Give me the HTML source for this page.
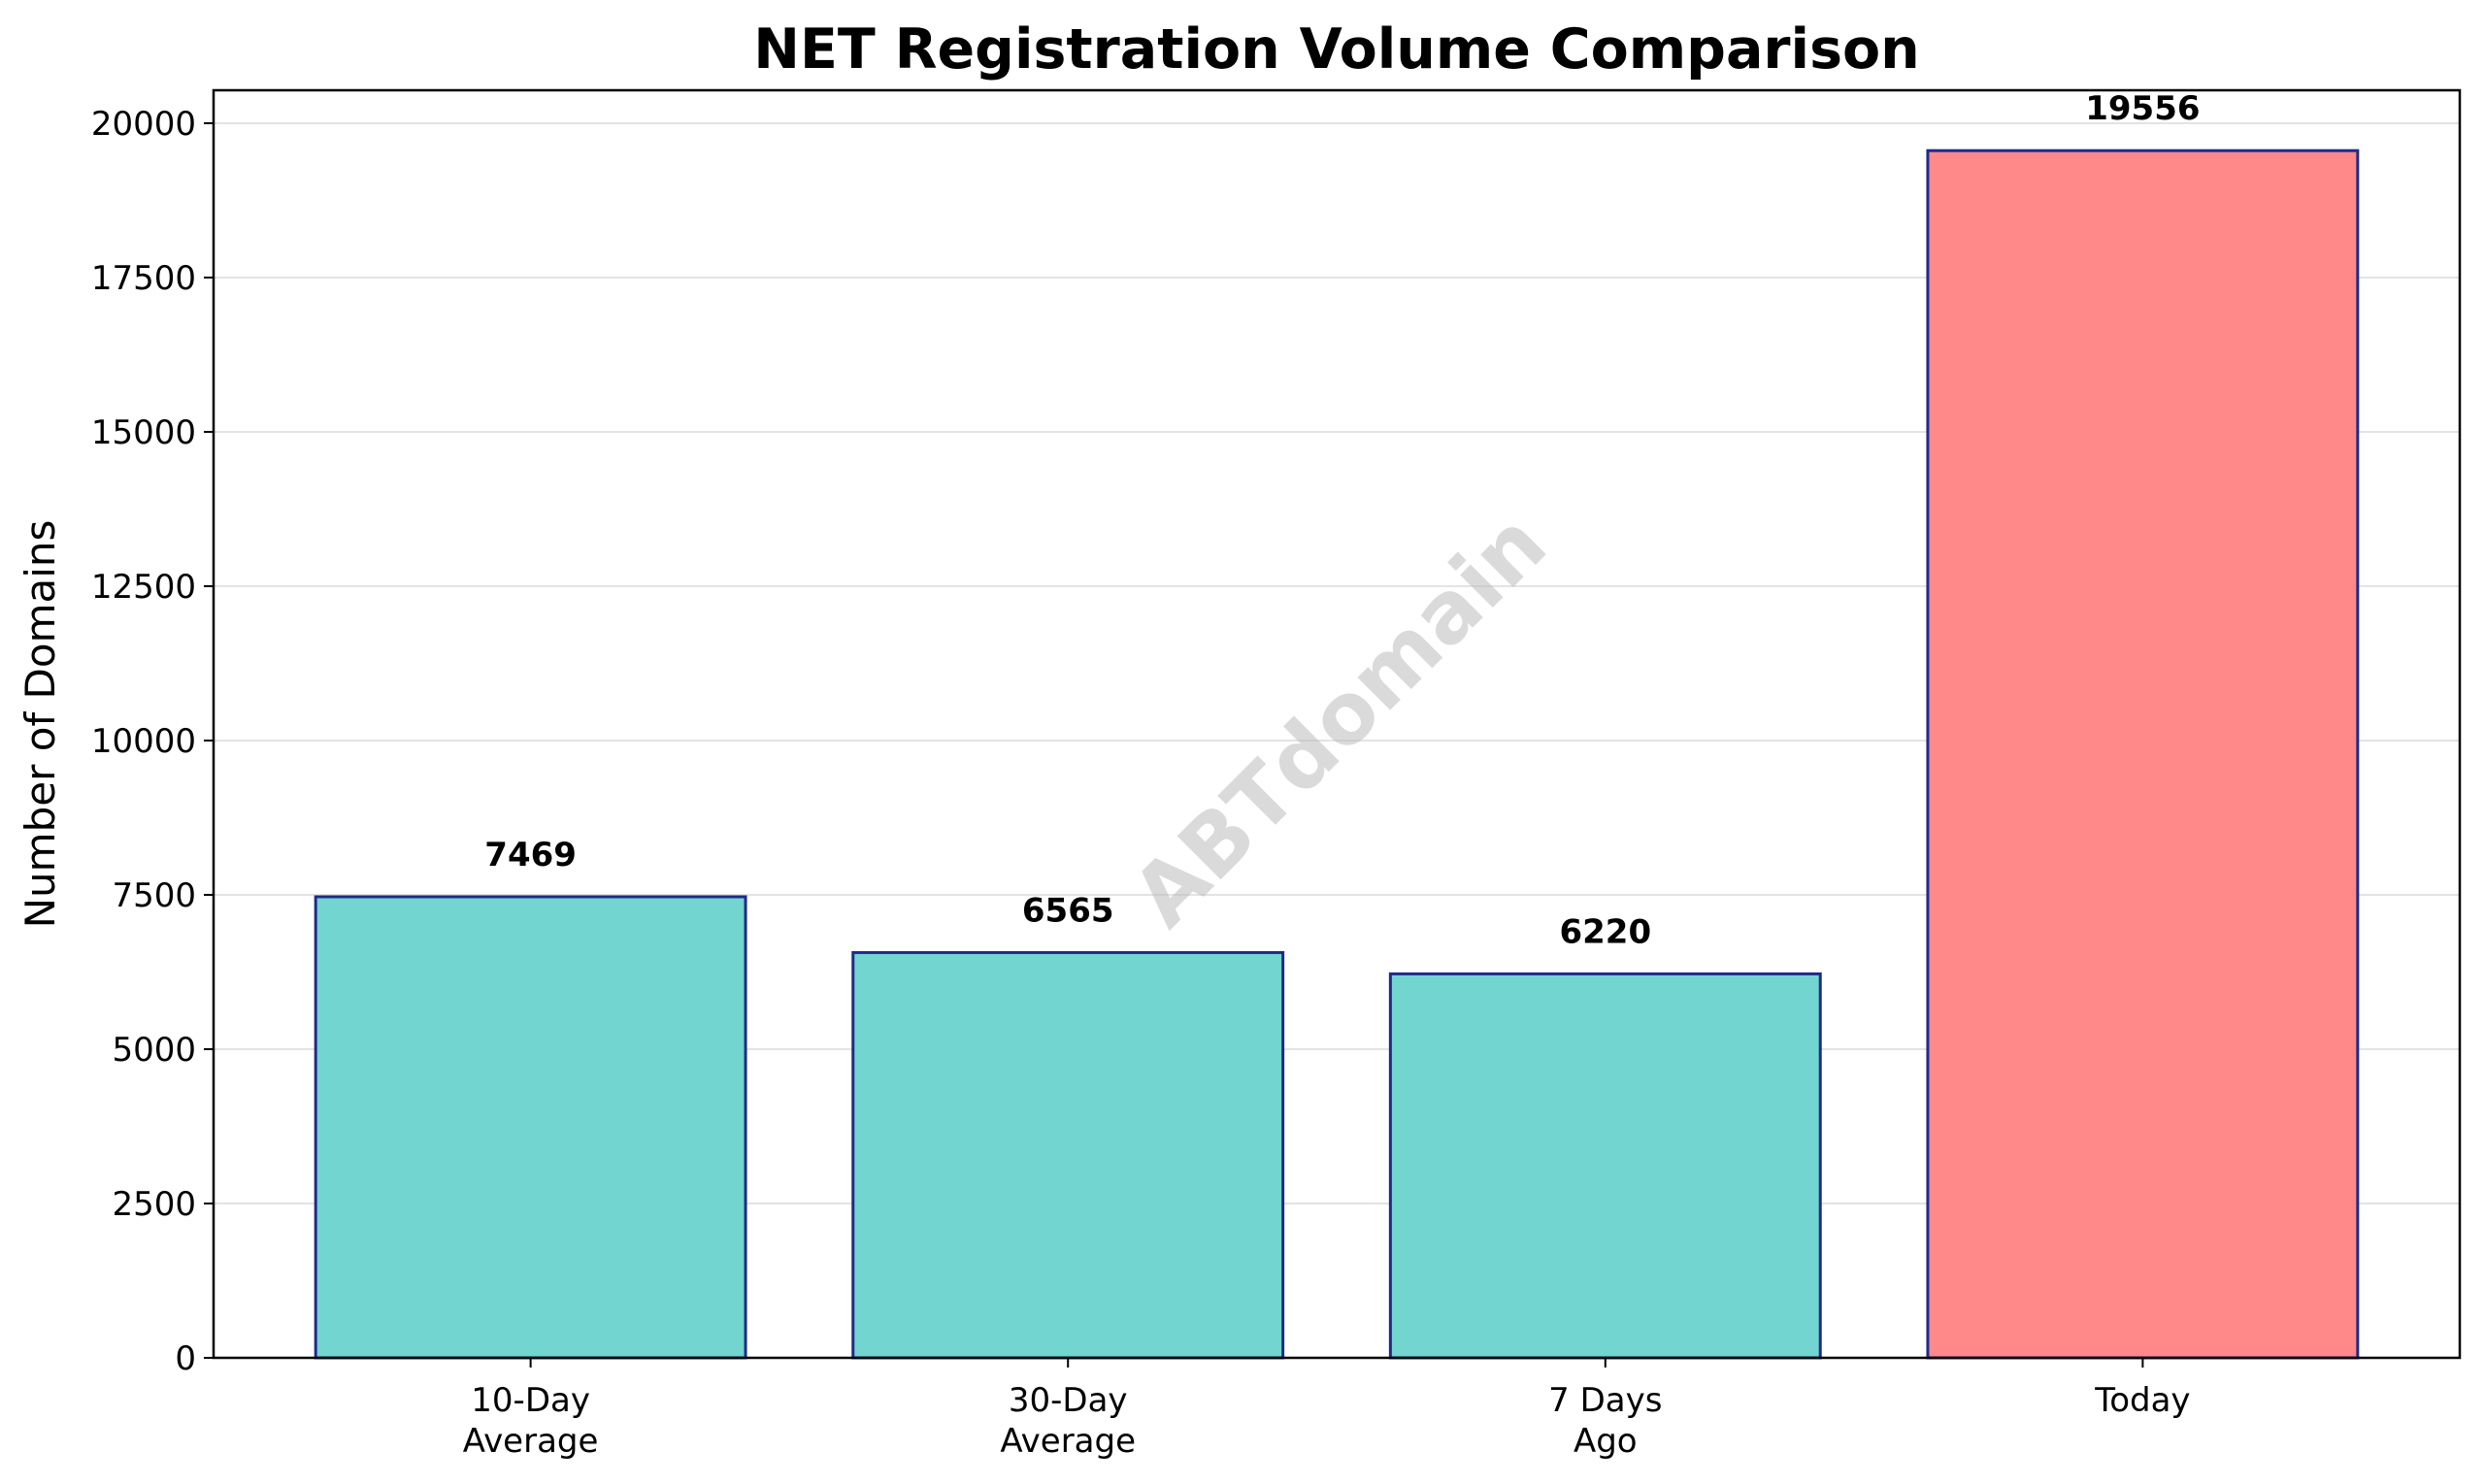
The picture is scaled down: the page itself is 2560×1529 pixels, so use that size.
<!DOCTYPE html>
<html><head><meta charset="utf-8"><style>
html,body{margin:0;padding:0;background:#fff;}
svg{display:block;font-family:"DejaVu Sans","Liberation Sans",sans-serif;}
</style></head><body>
<svg id="chart" width="2560" height="1529" viewBox="0 0 2560 1529">
<rect width="2560" height="1529" fill="#fff"/>
<text x="1377" y="70" text-anchor="middle" font-size="57" font-weight="bold" fill="#000">NET Registration Volume Comparison</text>
<text transform="translate(56,746) rotate(-90)" text-anchor="middle" font-size="42" fill="#000">Number of Domains</text>
<g id="grid"></g><g id="bars"></g><g id="labels"></g>
<text transform="translate(1384,746) rotate(-45)" text-anchor="middle" dominant-baseline="middle" font-size="87" font-weight="bold" fill="#bbbbbb" fill-opacity="0.55">ABTdomain</text>
<g id="axes"></g>
</svg>
<script>
const categories = [["10-Day","Average"],["30-Day","Average"],["7 Days","Ago"],["Today"]];
const values = [7469, 6565, 6220, 19556];
const barColors = ["#72d5cf","#72d5cf","#72d5cf","#ff8888"];
const yTicks = [0,2500,5000,7500,10000,12500,15000,17500,20000];
const L=220,R=2534,T=93,B=1399;
const yMax = Math.max(...values)*1.05;
const xMin=-0.59, xMax=categories.length-1+0.59;
const sx=v=>L+(v-xMin)/(xMax-xMin)*(R-L);
const sy=v=>B-v/yMax*(B-T);
const NS="http://www.w3.org/2000/svg";
function mk(tag,attrs,parent,text){const e=document.createElementNS(NS,tag);for(const k in attrs)e.setAttribute(k,attrs[k]);if(text!==undefined)e.textContent=text;document.getElementById(parent).appendChild(e);return e;}
yTicks.forEach(t=>{
  const g=mk('line',{x1:L,x2:R,y1:sy(t),y2:sy(t),stroke:'#e3e3e3','stroke-width':2},'grid');
  
  
  const tk=mk('line',{x1:L-10,x2:L,y1:sy(t),y2:sy(t),stroke:'#000','stroke-width':2},'axes');
  
  
  const lb=mk('text',{x:L-18,y:sy(t)+12,'text-anchor':'end','font-size':34,fill:'#000'},'axes',String(t));
  
  
});
const bw=0.8*(R-L)/(xMax-xMin);
values.forEach((v,i)=>{
  const cx=sx(i);
  const r=mk('rect',{x:cx-bw/2,y:sy(v),width:bw,height:B-sy(v),fill:barColors[i],stroke:'#1f2a8a','stroke-width':3},'bars');
  
  
  const vl=mk('text',{x:cx,y:sy(v)-32,'text-anchor':'middle','font-size':34,'font-weight':'bold',fill:'#000'},'labels',String(v));
  
  
  const tk=mk('line',{x1:cx,x2:cx,y1:B,y2:B+10,stroke:'#000','stroke-width':2},'axes');
  
  
  categories[i].forEach((s,j)=>{
    const xl=mk('text',{x:cx,y:1454+j*42,'text-anchor':'middle','font-size':34,fill:'#000'},'axes',s);
    
    
  });
});
const fr=mk('rect',{x:L,y:T,width:R-L,height:B-T,fill:'none',stroke:'#000','stroke-width':2.5},'axes');


</script>
</body></html>
